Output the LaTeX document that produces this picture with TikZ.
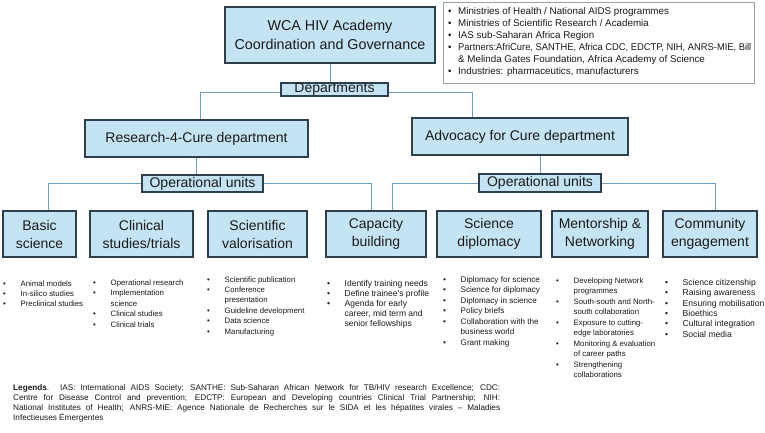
\documentclass[tikz,border=0pt]{standalone}
\usepackage{fontspec}
\setmainfont{Liberation Sans}
\usepackage{graphicx}
\definecolor{boxfill}{HTML}{C4E4F4}
\definecolor{boxline}{HTML}{2E3F4C}
\definecolor{connline}{HTML}{6E9FBF}
\definecolor{txt}{HTML}{1A1A1A}
\definecolor{infoline}{HTML}{A0A0A0}
\newcommand\bu{\makebox[17.5pt][l]{•}}
\newcommand\ct{\hspace*{17.5pt}}
\newcommand\ibu{\makebox[10pt][l]{•}}
\newcommand\ict{\hspace*{10pt}}
\begin{document}
\begin{tikzpicture}[x=1pt,y=-1pt,
  box/.style={draw=boxline, fill=boxfill, line width=1.2pt, inner sep=0pt, align=center, text=txt, font=\fontsize{14}{18}\selectfont},
  conn/.style={draw=connline, line width=1pt},
  blist/.style={anchor=north west, inner sep=0pt, align=left, text=txt}]
\useasboundingbox[fill=white] (0,0) rectangle (765,433);

% top
\node[box, minimum width=210pt, minimum height=56pt, font=\fontsize{14.3}{19}\selectfont] (gov) at (330,35) {WCA HIV Academy\\Coordination and Governance};
\node[draw=infoline, line width=0.6pt, minimum width=311pt, minimum height=81pt, inner sep=0pt] (info) at (599,42.5) {};
\node[blist, font=\fontsize{9.8}{12}\selectfont] (infotext) at (448,7.4) {%
\ibu Ministries of Health / National AIDS programmes\\
\ibu Ministries of Scientific Research / Academia\\
\ibu IAS sub-Saharan Africa Region\\
\ibu \scalebox{0.955}[1]{Partners:AfriCure, SANTHE, Africa CDC, EDCTP, NIH, ANRS-MIE, Bill}\\
\ict \& Melinda Gates Foundation, Africa Academy of Science\\
\ibu Industries: pharmaceutics, manufacturers};

\node[box, minimum width=107pt, minimum height=13pt] (dept) at (334.5,89.5) {Departments};

% departments
\node[box, minimum width=223pt, minimum height=37pt] (r4c) at (196.5,138.5) {Research-4-Cure department};
\node[box, minimum width=216pt, minimum height=37pt] (adv) at (520,136.5) {Advocacy for Cure department};

\node[box, minimum width=121pt, minimum height=17pt] (opL) at (202.5,183.5) {Operational units};
\node[box, minimum width=122pt, minimum height=18pt] (opR) at (540,183) {Operational units};

% units
\node[box, minimum width=73pt, minimum height=46pt] (basic) at (39.5,234) {Basic\\science};
\node[box, minimum width=103pt, minimum height=46pt] (clin) at (141.5,234) {Clinical\\studies/trials};
\node[box, minimum width=99pt, minimum height=46pt] (sci) at (257.5,234) {Scientific\\valorisation};
\node[box, minimum width=100pt, minimum height=46pt] (cap) at (376,234) {Capacity\\building};
\node[box, minimum width=104pt, minimum height=46pt] (dip) at (489,234) {Science\\diplomacy};
\node[box, minimum width=96pt, minimum height=46pt] (ment) at (600,234) {Mentorship \&\\Networking};
\node[box, minimum width=94pt, minimum height=46pt] (comm) at (710,234) {Community\\engagement};

% connectors
\draw[conn] (gov.south) -- (gov.south |- dept.north);
\draw[conn] ([yshift=-3.5pt]dept.west) -| ([xshift=3.5pt]r4c.north);
\draw[conn] ([yshift=-3pt]dept.east) -| ([xshift=-48pt]adv.north);
\draw[conn] (r4c.south) -- (r4c.south |- opL.north);
\draw[conn] (opL.west) -| ([xshift=8.5pt]basic.north);
\draw[conn] (opL.east) -| ([xshift=-5pt]cap.north);
\draw[conn] (opR.north) -- (opR.north |- adv.south);
\draw[conn] (opR.west) -| ([xshift=16pt]cap.north);
\draw[conn] (opR.east) -| ([xshift=5pt]comm.north);

% lists
\node[blist, font=\fontsize{7.8}{10}\selectfont] (lbasic) at (3,280.2) {%
\bu Animal models\\
\bu In-silico studies\\
\bu Preclinical studies};
\node[blist, font=\fontsize{7.8}{10.5}\selectfont] (lclin) at (93,279.2) {%
\bu Operational research\\
\bu Implementation\\
\ct science\\
\bu Clinical studies\\
\bu Clinical trials};
\node[blist, font=\fontsize{7.8}{10.4}\selectfont] (lsci) at (207,276.2) {%
\bu Scientific publication\\
\bu Conference\\
\ct presentation\\
\bu Guideline development\\
\bu Data science\\
\bu Manufacturing};
\node[blist, font=\fontsize{8.5}{10}\selectfont] (lcap) at (327,279.9) {%
\bu Identify training needs\\
\bu Define trainee’s profile\\
\bu Agenda for early\\
\ct career, mid term and\\
\ct senior fellowships};
\node[blist, font=\fontsize{8.1}{10.5}\selectfont] (ldip) at (443,276.1) {%
\bu Diplomacy for science\\
\bu Science for diplomacy\\
\bu Diplomacy in science\\
\bu Policy briefs\\
\bu Collaboration with the\\
\ct business world\\
\bu Grant making};
\node[blist, font=\fontsize{7.8}{10.5}\selectfont] (lment) at (556,277.2) {%
\bu Developing Network\\
\ct programmes\\
\bu South-south and North-\\
\ct south collaboration\\
\bu Exposure to cutting-\\
\ct edge laboratories\\
\bu Monitoring \& evaluation\\
\ct of career paths\\
\bu Strengthening\\
\ct collaborations};
\node[blist, font=\fontsize{8.6}{10.4}\selectfont] (lcomm) at (665,278.9) {%
\bu Science citizenship\\
\bu Raising awareness\\
\bu Ensuring mobilisation\\
\bu Bioethics\\
\bu Cultural integration\\
\bu Social media};

% legend
\node[blist, font=\fontsize{8.2}{10}\selectfont] (legend) at (13,384.8) {%
\makebox[487pt][s]{\textbf{Legends}. IAS: International AIDS Society; SANTHE: Sub-Saharan African Network for TB/HIV research Excellence; CDC:}\\
\makebox[487pt][s]{Centre for Disease Control and prevention; EDCTP: European and Developing countries Clinical Trial Partnership; NIH:}\\
\makebox[487pt][s]{National Institutes of Health; ANRS-MIE: Agence Nationale de Recherches sur le SIDA et les hépatites virales – Maladies}\\
Infectieuses Émergentes};
\end{tikzpicture}
\end{document}
